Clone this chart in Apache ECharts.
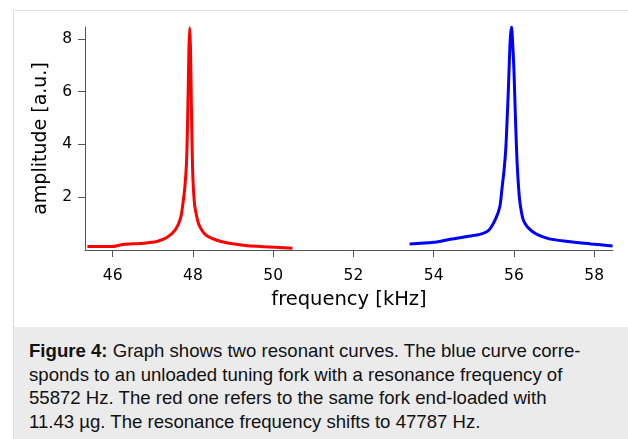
<!DOCTYPE html>
<html>
<head>
<meta charset="utf-8">
<script src="https://cdn.jsdelivr.net/npm/echarts@6/dist/echarts.min.js"></script>
<style>
  html, body { margin: 0; padding: 0; background: #fff; width: 628px; height: 439px; overflow: hidden; }
  #frame { position: absolute; left: 13px; top: 10px; width: 700px; height: 500px; border: 1px solid #dedede; }
  #chart { position: absolute; left: 0; top: 0; width: 628px; height: 327px; }
  #caption { position: absolute; left: 14px; top: 327px; width: 614px; height: 112px; background: #ebebeb; }
  #caption p { margin: 0; padding: 12px 0 0 15px; font-family: 'Liberation Sans', Arial, sans-serif; font-size: 18.6px; line-height: 23.7px; color: #111; white-space: nowrap; }
</style>
</head>
<body>
<div id="frame"></div>
<div id="chart"></div>
<div id="caption">
  <p><b>Figure 4:</b> Graph shows two resonant curves. The blue curve corre-<br>sponds to an unloaded tuning fork with a resonance frequency of<br>55872 Hz. The red one refers to the same fork end-loaded with<br>11.43 µg. The resonance frequency shifts to 47787 Hz.</p>
</div>
<script>
// loaded fork (red), frequency in kHz
const redFreq = [45.37, 45.97, 46.26, 46.69, 47.10, 47.35, 47.56, 47.69, 47.75, 47.80, 47.84, 47.86, 47.88, 47.90, 47.92, 47.94, 47.96, 47.98, 48.00, 48.04, 48.09, 48.15, 48.32, 48.70, 49.20, 49.77, 50.48]
const redAmp = [0.13, 0.13, 0.21, 0.25, 0.32, 0.47, 0.76, 1.2, 1.75, 2.4, 3.3, 4.4, 5.9, 7.6, 8.42, 7.6, 5.6, 3.9, 2.7, 1.75, 1.3, 0.95, 0.57, 0.32, 0.19, 0.12, 0.07]
// unloaded fork (blue)
const blueFreq = [53.40, 54.00, 54.42, 54.83, 55.17, 55.38, 55.55, 55.65, 55.70, 55.76, 55.80, 55.83, 55.86, 55.88, 55.91, 55.94, 55.97, 56.00, 56.03, 56.05, 56.08, 56.12, 56.16, 56.25, 56.46, 56.84, 57.34, 57.92, 58.46]
const blueAmp = [0.23, 0.29, 0.41, 0.51, 0.60, 0.76, 1.2, 1.65, 2.29, 3.1, 3.9, 4.9, 6.0, 6.86, 8.0, 8.45, 7.8, 6.86, 5.4, 4.5, 3.3, 2.3, 1.7, 1.08, 0.70, 0.44, 0.32, 0.23, 0.15]
const xTicks = [46, 48, 50, 52, 54, 56, 58]
const yTicks = [2, 4, 6, 8]

const pairs = (xs, ys) => xs.map((x, i) => [x, ys[i]])

const chart = echarts.init(document.getElementById('chart'))
const axisColor = '#555'
const font = 'DejaVu Sans'
const option = {
  animation: false,
  grid: { left: 85, top: 27, width: 528, height: 223 },
  xAxis: {
    type: 'value',
    min: 45.31,
    max: 58.47,
    name: 'frequency [kHz]',
    nameLocation: 'middle',
    nameGap: 40,
    nameTextStyle: { fontFamily: font, fontSize: 19.5, color: '#000' },
    axisLine: { show: true, lineStyle: { color: axisColor, width: 1 } },
    axisTick: { show: true, length: 7, customValues: xTicks, lineStyle: { color: axisColor } },
    axisLabel: { customValues: xTicks, margin: 18, fontFamily: font, fontSize: 15.5, color: '#000' },
    splitLine: { show: false }
  },
  yAxis: {
    type: 'value',
    min: 0,
    max: 8.45,
    name: 'amplitude [a.u.]',
    nameLocation: 'middle',
    nameGap: 34,
    nameTextStyle: { fontFamily: font, fontSize: 19, color: '#000' },
    axisLine: { show: true, lineStyle: { color: axisColor, width: 1 } },
    axisTick: { show: true, length: 7, customValues: yTicks, lineStyle: { color: axisColor } },
    axisLabel: { customValues: yTicks, margin: 13, fontFamily: font, fontSize: 15.5, color: '#000' },
    splitLine: { show: false }
  },
  series: [
    {
      type: 'line',
      data: pairs(redFreq, redAmp),
      showSymbol: false,
      smooth: 0.3,
      lineStyle: { color: '#ff0000', width: 3 },
      itemStyle: { color: '#ff0000' }
    },
    {
      type: 'line',
      data: pairs(blueFreq, blueAmp),
      showSymbol: false,
      smooth: 0.3,
      lineStyle: { color: '#0000ff', width: 3 },
      itemStyle: { color: '#0000ff' }
    }
  ]
}
chart.setOption(option)
</script>
</body>
</html>
